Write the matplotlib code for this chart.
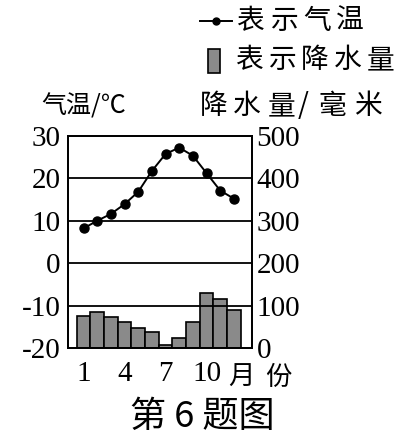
import matplotlib
matplotlib.use("Agg")
import matplotlib.pyplot as plt
from matplotlib.lines import Line2D
from matplotlib.patches import Rectangle

plt.rcParams['font.family'] = ['Noto Sans CJK SC', 'DejaVu Sans']

months = [1, 2, 3, 4, 5, 6, 7, 8, 9, 10, 11, 12]
temperature = [8.2, 10.0, 11.6, 13.9, 16.8, 21.7, 25.7, 27.2, 25.3, 21.2, 17.1, 15.2]
precipitation = [75, 85, 73, 61, 47, 39, 8, 25, 63, 130, 117, 90]
month_ticks = [1, 4, 7, 10]
temp_ticks = [-20, -10, 0, 10, 20, 30]
prec_ticks = [0, 100, 200, 300, 400, 500]

num_font = {'family': 'Liberation Serif', 'size': 21}

W, H = 404, 436
fig = plt.figure(figsize=(W / 100, H / 100), dpi=100)


def px_text(x, y, s, **kw):
    # place text using pixel coords measured from the top-left corner
    return fig.text(x / W, 1 - y / H, s, ha='center', va='center', **kw)


def spaced_text(centers, y, chars, size):
    for cx, ch in zip(centers, chars):
        px_text(cx, y, ch, fontsize=size)


ax = fig.add_axes([67.7 / W, 1 - 348.3 / H, 184.6 / W, 212.6 / H])
ax2 = ax.twinx()

# precipitation bars on the right axis
ax2.bar(months, precipitation, width=1.0, color='#8a8a8a', edgecolor='black',
        linewidth=1.2, zorder=2)
ax2.set_ylim(0, 500)
ax2.set_yticks(prec_ticks)
ax2.set_yticklabels([str(v) for v in prec_ticks], fontdict=num_font)

# temperature line on the left axis, drawn above bars
ax.set_zorder(ax2.get_zorder() + 1)
ax.patch.set_visible(False)
ax.plot(months, temperature, color='black', linewidth=1.4, marker='o',
        markersize=6.5, zorder=3)
ax.set_ylim(-20, 30)
ax.set_xlim(-0.16, 13.35)
ax.set_yticks(temp_ticks)
ax.set_yticklabels([str(v) for v in temp_ticks], fontdict=num_font)
ax.set_xticks(month_ticks)
ax.set_xticklabels([str(m) for m in month_ticks], fontdict=num_font)

for v in [-10, 0, 10, 20]:
    ax.axhline(v, color='black', linewidth=1.3, zorder=1)

ax.tick_params(axis='y', length=0, pad=5)
ax.tick_params(axis='x', length=0, pad=9)
ax2.tick_params(length=0, pad=3)
for a in (ax, ax2):
    for s in a.spines.values():
        s.set_linewidth(1.3)

# axis titles
px_text(84, 107, '气温/℃', fontsize=18)
spaced_text([214, 247, 282, 303, 332, 368], 106, '降水量/毫米', 20)
spaced_text([241, 278], 377, '月份', 19)

# legend
fig.add_artist(Line2D([200 / W, 232 / W], [1 - 21 / H, 1 - 21 / H],
                      color='black', linewidth=1.4, transform=fig.transFigure))
fig.add_artist(Line2D([216 / W], [1 - 21 / H], color='black', marker='o',
                      markersize=5, transform=fig.transFigure))
spaced_text([250, 284, 317, 350], 21, '表示气温', 20)
fig.add_artist(Rectangle((208 / W, 1 - 73 / H), 12 / W, 24 / H,
                         facecolor='#8a8a8a', edgecolor='black', linewidth=1.2,
                         transform=fig.transFigure))
spaced_text([249, 282, 315, 348, 381], 60, '表示降水量', 20)

# caption
px_text(202, 417, '第 6 题图', fontsize=26)

fig.savefig('out.png', dpi=100)
